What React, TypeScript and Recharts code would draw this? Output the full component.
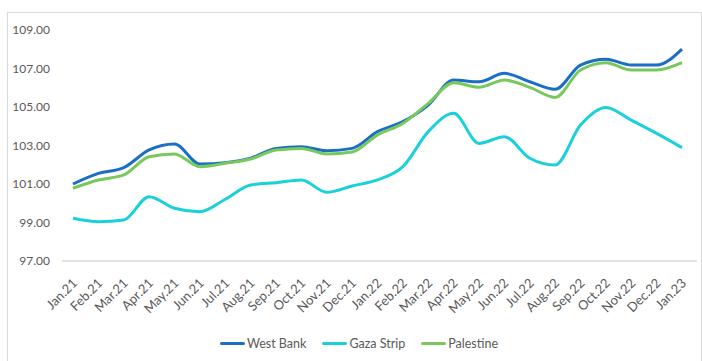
// App.tsx
// Price index lines – West Bank, Gaza Strip and Palestine, Jan.21 to Jan.23.

import * as React from "react";
import { LineChart, Line, XAxis, YAxis } from "recharts";

const months = [
  "Jan.21", "Feb.21", "Mar.21", "Apr.21", "May.21", "Jun.21", "Jul.21",
  "Aug.21", "Sep.21", "Oct.21", "Nov.21", "Dec.21", "Jan.22", "Feb.22",
  "Mar.22", "Apr.22", "May.22", "Jun.22", "Jul.22", "Aug.22", "Sep.22",
  "Oct.22", "Nov.22", "Dec.22", "Jan.23",
];

const westBank = [
  101.0, 101.55, 101.85, 102.77, 103.08, 102.04, 102.11, 102.34, 102.85,
  102.94, 102.73, 102.85, 103.72, 104.24, 105.1, 106.4, 106.31, 106.75,
  106.31, 105.92, 107.18, 107.48, 107.18, 107.18, 108.01,
];

const gazaStrip = [
  99.22, 99.04, 99.13, 100.34, 99.74, 99.56, 100.21, 100.95, 101.07,
  101.21, 100.57, 100.9, 101.21, 101.9, 103.72, 104.67, 103.11, 103.46,
  102.34, 101.99, 104.06, 104.98, 104.32, 103.63, 102.89,
];

const palestine = [
  100.78, 101.21, 101.47, 102.42, 102.56, 101.9, 102.08, 102.3, 102.77,
  102.85, 102.56, 102.66, 103.55, 104.15, 105.19, 106.26, 106.02, 106.4,
  106.02, 105.5, 106.92, 107.3, 106.92, 106.92, 107.3,
];

const yTicks = [97, 99, 101, 103, 105, 107, 109];

const series = [
  { key: "westBank", name: "West Bank", color: "#1a6ec6" },
  { key: "gazaStrip", name: "Gaza Strip", color: "#19d0db" },
  { key: "palestine", name: "Palestine", color: "#79c85c" },
];

const FONT = "Lato, 'Open Sans', sans-serif";
const TEXT = "#595959";

const data = months.map((m, i) => ({
  month: m,
  westBank: westBank[i],
  gazaStrip: gazaStrip[i],
  palestine: palestine[i],
}));

// eslint-disable-next-line @typescript-eslint/no-explicit-any
const MonthTick = (props: any) => {
  const { x, payload } = props;
  const ax = x + 5;
  const ay = 284;
  return (
    <text
      x={ax}
      y={ay}
      textAnchor="end"
      fontSize={13}
      fontFamily={FONT}
      fill={TEXT}
      transform={`rotate(-45, ${ax}, ${ay})`}
    >
      {payload.value}
    </text>
  );
};

const LegendBox = () => (
  <div
    style={{
      position: "absolute",
      left: 0,
      top: 336,
      width: 718,
      display: "flex",
      justifyContent: "center",
      alignItems: "center",
      fontFamily: FONT,
      fontSize: 12.5,
      color: TEXT,
    }}
  >
    {series.map((s) => (
      <div
        key={s.key}
        style={{ display: "flex", alignItems: "center", margin: "0 8px" }}
      >
        <span
          style={{
            display: "inline-block",
            width: 25,
            height: 3,
            background: s.color,
            borderRadius: 2,
            marginRight: 2,
          }}
        />
        <span>{s.name}</span>
      </div>
    ))}
  </div>
);

const App: React.FC = () => (
  <div
    style={{
      position: "absolute",
      left: 0,
      top: 0,
      width: 702,
      height: 361,
      background: "#fff",
    }}
  >
    <div
      style={{
        position: "absolute",
        left: 7,
        top: 12,
        width: 693,
        height: 360,
        border: "1px solid #d9d9d9",
        borderBottom: "none",
      }}
    />
    <div style={{ position: "absolute", left: 0, top: 0 }}>
      <LineChart
        width={702}
        height={361}
        data={data}
        margin={{ top: 30, right: 5, bottom: 0, left: 0 }}
      >
        <XAxis
          dataKey="month"
          interval={0}
          tick={<MonthTick />}
          tickLine={false}
          axisLine={{ stroke: "#d9d9d9", strokeWidth: 1.5 }}
          padding={{ left: 11, right: 15 }}
          height={100}
        />
        <YAxis
          width={62}
          domain={[97, 109]}
          ticks={yTicks}
          tickFormatter={(v: number) => v.toFixed(2)}
          axisLine={false}
          tickLine={false}
          tickSize={0}
          tickMargin={12}
          tick={{ fontSize: 12, fill: TEXT, fontFamily: FONT }}
        />
        {series.map((s) => (
          <Line
            key={s.key}
            dataKey={s.key}
            name={s.name}
            type="monotone"
            stroke={s.color}
            strokeWidth={3}
            dot={false}
            activeDot={false}
            isAnimationActive={false}
          />
        ))}
      </LineChart>
    </div>
    <LegendBox />
  </div>
);

export default App;
